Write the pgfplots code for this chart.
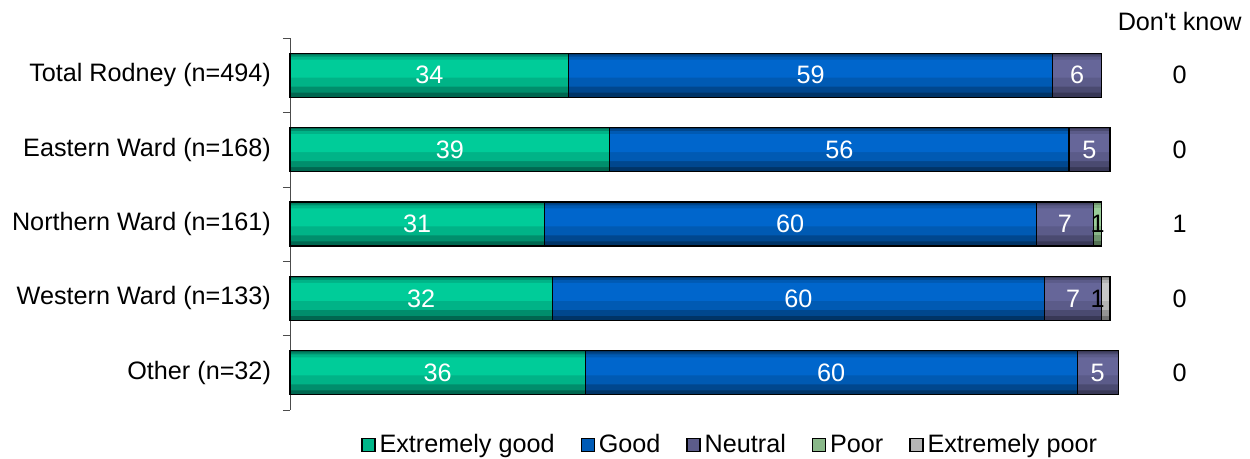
\documentclass[border=0pt]{standalone}
\usepackage{pgfplots}
\usepackage{pgfplotstable}
\pgfplotsset{compat=1.18}
\usepackage{fontspec}
\setmainfont{Liberation Sans}
\definecolor{egM}{HTML}{00CC99}\definecolor{egD}{HTML}{005C48}
\definecolor{gM}{HTML}{0066CC}\definecolor{gD}{HTML}{002E5C}
\definecolor{nM}{HTML}{666699}\definecolor{nD}{HTML}{33334F}
\definecolor{pM}{HTML}{99CC99}\definecolor{pD}{HTML}{4A664A}
\definecolor{epM}{HTML}{C8C8C8}\definecolor{epD}{HTML}{686868}
\pgfplotstableread{
y eg g n p ep pl epl dk
4 34 59 6 0 0 {} {} 0
3 39 56 5 0 0 {} {} 0
2 31 60 7 1 0 1 {} 1
1 32 60 7 0 1 {} 1 0
0 36 60 5 0 0 {} {} 0
}\data
\newcommand\fs{\fontsize{12.6}{14.5}\selectfont}
\pgfplotsset{base/.style={at={(0,0)}, anchor=south west, scale only axis,
  width=410pt, height=186pt, xbar stacked, bar shift=0pt,
  xmin=0, xmax=100, ymin=-0.5, ymax=4.5, clip=false}}
\newcommand\layer[3]{%
\begin{axis}[base, hide axis, bar width=#1, bar shift=#3]
\addplot[draw=none, fill=egM!#2!egD] table[x=eg, y=y] {\data};
\addplot[draw=none, fill=gM!#2!gD] table[x=g, y=y] {\data};
\addplot[draw=none, fill=nM!#2!nD] table[x=n, y=y] {\data};
\addplot[draw=none, fill=pM!#2!pD] table[x=p, y=y] {\data};
\addplot[draw=none, fill=epM!#2!epD] table[x=ep, y=y] {\data};
\end{axis}}
\begin{document}
\begin{tikzpicture}
\path[use as bounding box] (-145pt,-24.5pt) rectangle (480pt,205pt);
\layer{22pt}{10}{0pt}
\layer{19pt}{45}{0.75pt}
\layer{15pt}{78}{1.75pt}
\layer{9pt}{100}{3.25pt}
\begin{axis}[base, bar width=22pt,
  axis x line=none, axis y line*=left,
  axis line style={draw=black!70, -},
  ytick={0,1,2,3,4},
  yticklabels={Other (n=32),Western Ward (n=133),Northern Ward (n=161),Eastern Ward (n=168),Total Rodney (n=494)},
  minor ytick={-0.5,0.5,1.5,2.5,3.5,4.5},
  major tick length=0pt, minor tick length=3.5pt, tick align=outside,
  tick style={draw=black!70},
  yticklabel style={font=\fs, xshift=-6pt},
  legend style={draw=none, at={(axis description cs:0.538,-0.094)}, anchor=center,
    legend columns=-1, font=\fs,
    /tikz/every even column/.append style={column sep=11pt},
    inner sep=0pt},
  seg/.style={draw=black, line width=0.6pt, fill=none,
    legend image code/.code={\draw[draw=black, fill=#1] (0pt,-3.2pt) rectangle (6.5pt,3.2pt);}},
  lab/.style={nodes near coords, point meta=explicit symbolic,
    every node near coord/.append style={anchor=center, text=#1, font=\fs}},
]
\addplot[seg=egM!80!egD, lab=white] table[x=eg, y=y, meta=eg] {\data};
\addplot[seg=gM!80!gD, lab=white] table[x=g, y=y, meta=g] {\data};
\addplot[seg=nM!80!nD, lab=white] table[x=n, y=y, meta=n] {\data};
\addplot[seg=pM!80!pD, lab=black] table[x=p, y=y, meta=pl] {\data};
\addplot[seg=epM!80!epD, lab=black,
  every node near coord/.append style={xshift=-4.1pt}] table[x=ep, y=y, meta=epl] {\data};
\addplot[forget plot, stack plots=false, draw=none, fill=none, lab=black] table[x expr=217, y=y, meta=dk] {\data};
\legend{Extremely good, Good, Neutral, Poor, Extremely poor}
\node[font=\fs] at (axis cs:108.5,4.72) {Don\textquotesingle t know};
\end{axis}
\end{tikzpicture}
\end{document}
